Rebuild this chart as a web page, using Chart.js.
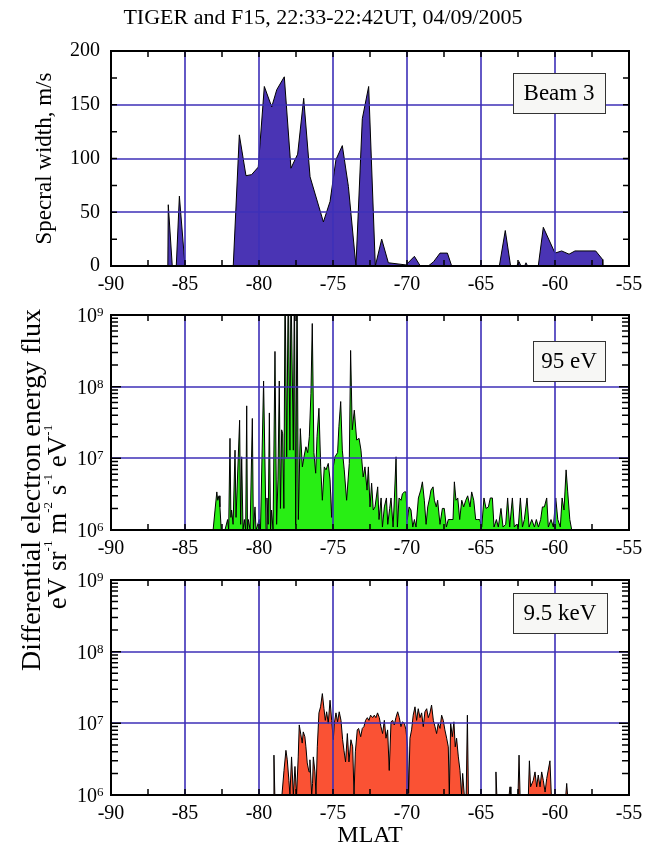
<!DOCTYPE html>
<html>
<head>
<meta charset="utf-8">
<script src="https://cdn.jsdelivr.net/npm/chart.js@4/dist/chart.umd.min.js"></script>
<style>
  body { margin: 0; background: #fff; }
  #wrap { position: relative; width: 657px; height: 850px; }
  #wrap canvas { position: absolute; left: 0; top: 0; }
</style>
</head>
<body>
<div id="wrap">
  <canvas id="c1" width="657" height="850"></canvas>
  <canvas id="c2" width="657" height="850"></canvas>
  <canvas id="c3" width="657" height="850"></canvas>
</div>
<script>
const title = 'TIGER and F15, 22:33-22:42UT, 04/09/2005';
const latTicks = [-90, -85, -80, -75, -70, -65, -60, -55];
const widthTicks = [0, 50, 100, 150, 200];
const fluxTicks = [1e6, 1e7, 1e8, 1e9];
const fluxExp = ['6', '7', '8', '9'];

// panel 1: Beam 3 spectral width
const beamLat = [-90, -86.16, -86.13, -85.86, -85.59, -85.38, -85.0, -81.74, -81.33, -80.88,
  -80.5, -80.05, -79.64, -79.14, -78.8, -78.29, -77.84, -77.39, -76.98, -76.55,
  -75.65, -75.2, -74.8, -74.37, -73.96, -73.45, -73.02, -72.59, -72.14, -71.71,
  -71.26, -70.07, -69.5, -69.1, -68.56, -68.2, -67.77, -67.27, -66.98, -63.76,
  -63.36, -63.0, -62.6, -62.43, -62.3, -62.05, -61.96, -61.85, -61.13, -60.79,
  -60.0, -59.55, -59.05, -58.65, -57.25, -56.78, -56.77];
const beamWidth = [0, 0, 57, 0, 0, 65, 0, 0, 122, 84,
  85, 92, 167, 148, 164, 176, 91, 104, 156, 83,
  41, 60, 99, 112, 74, 0, 137, 167, 0, 25,
  3, 1, 9, 0, 0, 4, 12, 12, 0, 0,
  33, 0, 0, 4, 0, 0, 3, 0, 0, 36,
  12, 14, 11, 14, 14, 6, 0];

// panel 2: 95 eV electrons
const lowLat = [-90, -83.1, -82.97, -82.85, -82.79, -82.7, -82.64, -82.55, -82.3, -82.12,
  -82.05, -81.96, -81.9, -81.85, -81.75, -81.62, -81.55, -81.4, -81.31, -81.24,
  -81.17, -81.08, -80.99, -80.9, -80.83, -80.78, -80.72, -80.6, -80.45, -80.38,
  -80.27, -80.2, -79.98, -79.9, -79.69, -79.6, -79.52, -79.46, -79.38, -79.3,
  -79.22, -79.15, -79.05, -78.92, -78.81, -78.72, -78.63, -78.55, -78.47, -78.4,
  -78.32, -78.24, -78.13, -78.02, -77.91, -77.84, -77.68, -77.61, -77.52, -77.43,
  -77.34, -77.21, -77.07, -76.96, -76.83, -76.71, -76.6, -76.49, -76.4, -76.29,
  -76.17, -76.08, -75.95, -75.83, -75.72, -75.59, -75.47, -75.32, -75.2, -75.09,
  -74.98, -74.87, -74.69, -74.6, -74.48, -74.37, -74.24, -74.08, -73.9, -73.81,
  -73.7, -73.56, -73.4, -73.24, -73.11, -72.96, -72.84, -72.7, -72.61, -72.5,
  -72.39, -72.28, -72.16, -71.98, -71.89, -71.75, -71.66, -71.53, -71.39, -71.3,
  -71.17, -71.08, -70.94, -70.85, -70.74, -70.65, -70.54, -70.4, -70.31, -70.18,
  -70.07, -69.98, -69.86, -69.73, -69.61, -69.5, -69.39, -69.23, -69.07, -68.96,
  -68.83, -68.71, -68.6, -68.47, -68.38, -68.24, -68.15, -68.02, -67.93, -67.77,
  -67.61, -67.48, -67.34, -67.21, -67.03, -66.89, -66.8, -66.69, -66.57, -66.44,
  -66.3, -66.17, -66.03, -65.9, -65.74, -65.63, -65.49, -65.36, -65.22, -65.09,
  -64.95, -64.8, -64.66, -64.5, -64.37, -64.23, -64.12, -63.96, -63.83, -63.65,
  -63.51, -63.33, -63.2, -63.06, -62.88, -62.75, -62.61, -62.48, -62.34, -62.2,
  -62.07, -61.89, -61.75, -61.57, -61.39, -61.26, -61.12, -60.97, -60.85, -60.72,
  -60.56, -60.45, -60.27, -60.11, -59.95, -59.81, -59.64, -59.52, -59.39, -59.25,
  -59.14, -59.0, -58.87, -58.76];
const lowFlux = [1e6, 1e6, 1.9e6, 3.4e6, 2.6e6, 3e6, 2.1e6, 1e6, 1e6, 1.4e6,
  1e6, 1.9e7, 1.5e6, 1.9e6, 1.2e6, 1.3e7, 1.5e6, 1.05e7, 3.4e7, 1.2e6,
  1.05e7, 1e6, 1.4e6, 1e6, 5.4e7, 1e6, 1.4e6, 1e6, 3.6e7, 1e6,
  2.1e6, 1e6, 1.4e6, 1e6, 1.2e8, 9.5e6, 1e6, 2.8e6, 1.2e6, 4.3e7,
  1e6, 1.9e6, 1e6, 3.1e8, 1.2e6, 5e6, 1.2e8, 2e6, 2.5e7, 2.2e7,
  2e6, 3e9, 1.05e7, 3e9, 1.3e7, 3e9, 1.3e7, 3e9, 1.2e6, 3e9,
  1.4e6, 2.6e7, 7.6e6, 1.05e7, 1.45e7, 1.2e7, 2e7, 8.1e7, 7.6e8, 1.2e7,
  6.2e6, 2e7, 5e7, 7.6e6, 2.6e6, 7.6e6, 6.9e6, 8.5e6, 5e6, 1.5e6,
  7.6e6, 1.05e7, 1.2e7, 2.8e7, 6.2e7, 1.3e7, 6.9e6, 2.6e6, 8.5e6, 3.2e8,
  2.5e7, 4.7e7, 1.8e7, 1.9e7, 1.3e7, 5.5e6, 7.6e6, 3.6e6, 7.6e6, 2.1e6,
  4.5e6, 1.9e6, 2.1e6, 4e6, 1.4e6, 2.8e6, 1.1e6, 2.1e6, 2.8e6, 1.2e6,
  2e6, 2.8e6, 1.1e6, 2.8e6, 1.05e7, 1.1e6, 2.8e6, 2.6e6, 3.2e6, 3.4e6,
  3.4e6, 1.4e6, 2.1e6, 1.9e6, 1.1e6, 1.4e6, 1.1e6, 2.8e6, 3.6e6, 4.7e6,
  2.6e6, 1.2e6, 2.1e6, 2.8e6, 3.6e6, 4e6, 2.6e6, 2.1e6, 2.6e6, 1.2e6,
  2e6, 2e6, 1.1e6, 1.4e6, 1.4e6, 1.4e6, 4.7e6, 2.6e6, 2.8e6, 1.4e6,
  2.6e6, 2.1e6, 2.6e6, 3e6, 2.1e6, 3.4e6, 2.6e6, 1.4e6, 1.4e6, 1.4e6,
  1.1e6, 2.8e6, 2e6, 2.1e6, 2.8e6, 2.8e6, 1.1e6, 1.4e6, 1.1e6, 2e6,
  1.1e6, 1.2e6, 2.8e6, 1.1e6, 2.8e6, 1.1e6, 1.2e6, 1.1e6, 2.8e6, 1.1e6,
  1.4e6, 2.8e6, 1.1e6, 1.4e6, 1.1e6, 1.4e6, 1.1e6, 1.4e6, 2.1e6, 2.1e6,
  2.8e6, 1.1e6, 1.4e6, 1.1e6, 2.8e6, 1.4e6, 1.1e6, 2.8e6, 1.9e6, 6.9e6,
  3.4e6, 1.4e6, 1e6, 1e6];

// panel 3: 9.5 keV electrons
const highLat = [-90, -79.05, -78.99, -78.93, -78.45, -78.31, -78.18, -78.09, -77.98, -77.91,
  -77.8, -77.68, -77.57, -77.46, -77.35, -77.28, -77.17, -77.08, -77.01, -76.9,
  -76.83, -76.74, -76.62, -76.56, -76.44, -76.38, -76.33, -76.22, -76.15, -76.06,
  -75.95, -75.84, -75.72, -75.61, -75.52, -75.43, -75.32, -75.2, -75.09, -74.98,
  -74.91, -74.8, -74.69, -74.58, -74.46, -74.35, -74.26, -74.15, -74.03, -73.92,
  -73.79, -73.67, -73.58, -73.49, -73.36, -73.27, -73.13, -73.02, -72.91, -72.8,
  -72.68, -72.57, -72.46, -72.32, -72.21, -72.1, -71.99, -71.87, -71.76, -71.65,
  -71.53, -71.42, -71.31, -71.2, -71.08, -70.97, -70.86, -70.75, -70.63, -70.52,
  -70.41, -70.3, -70.18, -70.07, -69.96, -69.89, -69.8, -69.69, -69.58, -69.46,
  -69.35, -69.24, -69.12, -69.01, -68.9, -68.79, -68.67, -68.56, -68.45, -68.34,
  -68.22, -68.11, -68.0, -67.89, -67.77, -67.66, -67.55, -67.44, -67.32, -67.21,
  -67.14, -67.05, -66.94, -66.83, -66.74, -66.65, -66.53, -66.42, -66.31, -66.24,
  -66.13, -66.0, -65.92, -65.85, -64.05, -63.99, -63.93, -63.1, -63.04, -62.98,
  -62.5, -62.43, -62.36, -61.8, -61.73, -61.65, -61.47, -61.35, -61.24, -61.13,
  -61.01, -60.9, -60.79, -60.67, -60.56, -60.34, -60.25, -59.27, -59.21, -59.15];
const highFlux = [1e6, 1e6, 3.6e6, 1e6, 1e6, 2.2e6, 4.2e6, 3.1e6, 1.6e6, 1e6,
  3.4e6, 1e6, 2.5e6, 1e6, 3.4e6, 9.5e6, 6.9e6, 5.3e6, 7.6e6, 6.5e6,
  4.7e6, 2.8e6, 2.1e6, 3.1e6, 1e6, 1.45e6, 3.4e6, 2.1e6, 1e6, 4.7e6,
  1.4e7, 1.7e7, 2.6e7, 1.6e7, 1.1e7, 1.45e7, 1e7, 2.1e7, 1.1e7, 5.9e6,
  1e7, 1.4e7, 1.05e7, 1.45e7, 1.1e7, 5.9e6, 4.2e6, 2.9e6, 7.2e6, 2.9e6,
  5.9e6, 4.7e6, 1e6, 4e6, 8.1e6, 8.5e6, 6.5e6, 8.5e6, 9e6, 1.1e7,
  1.2e7, 1.1e7, 1.3e7, 1.2e7, 1.3e7, 1.2e7, 1.4e7, 1.2e7, 9e6, 7.2e6,
  1.1e7, 6.2e6, 8.1e6, 2.2e6, 1.05e7, 1.1e7, 9.5e6, 1.2e7, 1.45e7, 1.2e7,
  9e6, 1.05e7, 1e7, 8.1e6, 4.7e6, 1.05e6, 6.2e6, 8.1e6, 1.3e7, 1.7e7,
  1.1e7, 1.6e7, 1.2e7, 1.4e7, 9e6, 1.45e7, 1.6e7, 1.2e7, 1.4e7, 1.8e7,
  1.1e7, 9e6, 7.2e6, 1e7, 8.5e6, 1.3e7, 1.1e7, 8.1e6, 6.2e6, 4.7e6,
  1e6, 1e7, 6.5e6, 1.05e7, 4.7e6, 6.2e6, 3.4e6, 2.2e6, 1e6, 2e6,
  1e6, 1e6, 1.3e7, 1e6, 1e6, 2.1e6, 1e6, 1e6, 1.3e6, 1e6,
  1e6, 3.6e6, 1e6, 1e6, 3e6, 1.3e6, 1.6e6, 2.1e6, 1.3e6, 1.9e6,
  1.3e6, 2.1e6, 1.6e6, 1.1e6, 1.7e6, 3e6, 1e6, 1e6, 1.45e6, 1e6];

const fluxTitle = 'Differential electron energy flux';
const fluxUnit = [['eV sr', 0], ['-1', 1], [' m', 0], ['-2', 1], [' s', 0], ['-1', 1], [' eV', 0], ['-1', 1]];

const serif = '"Liberation Serif", "Times New Roman", serif';
const gridBlue = 'rgb(62,48,184)';
Chart.defaults.font.family = serif;
Chart.defaults.color = '#000';

function pts(xs, ys) {
  return xs.map((x, i) => ({ x: x, y: ys[i] }));
}

// minor tick lists from the major ones
function latMinor() {
  const out = [];
  for (let v = latTicks[0]; v <= latTicks[latTicks.length - 1] + 0.01; v += 2.5) out.push(v);
  return out;
}
function fluxMinor() {
  const out = [];
  fluxTicks.forEach((d, i) => {
    if (i === fluxTicks.length - 1) { out.push(d); return; }
    for (let k = 1; k < 10; k++) out.push(k * d);
  });
  return out;
}

const decor = {
  id: 'decor',
  afterDatasetsDraw(chart, args, o) {
    // grid drawn over the filled areas, as in the original
    const { ctx, chartArea: a, scales: { x, y } } = chart;
    const yMajor = o.log ? fluxTicks : widthTicks;
    ctx.save();
    ctx.strokeStyle = gridBlue;
    ctx.lineWidth = 1.6;
    ctx.beginPath();
    latTicks.slice(1, -1).forEach(v => {
      const px = Math.round(x.getPixelForValue(v));
      ctx.moveTo(px, a.top); ctx.lineTo(px, a.bottom);
    });
    yMajor.slice(1, -1).forEach(v => {
      const py = Math.round(y.getPixelForValue(v));
      ctx.moveTo(a.left, py); ctx.lineTo(a.right, py);
    });
    ctx.stroke();
    ctx.restore();
  },
  afterDraw(chart, args, o) {
    const { ctx, chartArea: a, scales: { x, y } } = chart;
    ctx.save();
    ctx.strokeStyle = '#000';
    ctx.lineWidth = 1.5;
    ctx.beginPath();
    x.ticks.forEach(t => {
      const px = x.getPixelForValue(t.value);
      ctx.moveTo(px, a.top); ctx.lineTo(px, a.top + 6);
      ctx.moveTo(px, a.bottom); ctx.lineTo(px, a.bottom - 6);
    });
    y.ticks.forEach(t => {
      const py = y.getPixelForValue(t.value);
      let len = 6;
      if (o.log) len = fluxTicks.includes(t.value) ? 10 : 7;
      ctx.moveTo(a.left, py); ctx.lineTo(a.left + len, py);
      ctx.moveTo(a.right, py); ctx.lineTo(a.right - len, py);
    });
    ctx.stroke();
    ctx.lineWidth = 2;
    ctx.strokeRect(a.left, a.top, a.right - a.left, a.bottom - a.top);

    // label box
    const b = o.box;
    const bx = a.right - b.right - b.w, by = a.top + b.top;
    ctx.fillStyle = '#f7f7f5';
    ctx.fillRect(bx, by, b.w, 40);
    ctx.lineWidth = 1;
    ctx.strokeStyle = '#333';
    ctx.strokeRect(bx + 0.5, by + 0.5, b.w, 40);
    ctx.fillStyle = '#000';
    ctx.font = '23px ' + serif;
    ctx.textAlign = 'center';
    ctx.textBaseline = 'middle';
    ctx.fillText(b.text, bx + b.w / 2, by + 21);

    // log tick labels 10^n
    if (o.log) {
      fluxTicks.forEach((v, i) => {
        const py = y.getPixelForValue(v);
        ctx.textBaseline = 'alphabetic';
        ctx.textAlign = 'right';
        ctx.font = '20px ' + serif;
        ctx.fillText('10', a.left - 14, py + 7);
        ctx.textAlign = 'left';
        ctx.font = '13px ' + serif;
        ctx.fillText(fluxExp[i], a.left - 14, py + 1);
      });
    }

    if (o.title) {
      ctx.font = '22px ' + serif;
      ctx.textAlign = 'center';
      ctx.textBaseline = 'alphabetic';
      ctx.fillText(title, 323, 24);
    }

    if (o.fluxLabel) {
      ctx.save();
      ctx.translate(33, 490);
      ctx.rotate(-Math.PI / 2);
      ctx.font = '28px ' + serif;
      ctx.textAlign = 'center';
      ctx.textBaseline = 'middle';
      ctx.fillText(fluxTitle, 0, 0);
      ctx.restore();

      ctx.save();
      ctx.translate(59, 517);
      ctx.rotate(-Math.PI / 2);
      ctx.textBaseline = 'middle';
      ctx.textAlign = 'left';
      const big = '27px ' + serif, small = '13px ' + serif;
      let total = 0;
      fluxUnit.forEach(p => { ctx.font = p[1] ? small : big; total += ctx.measureText(p[0]).width; });
      let cx = -total / 2;
      fluxUnit.forEach(p => {
        ctx.font = p[1] ? small : big;
        ctx.fillText(p[0], cx, p[1] ? -10 : 0);
        cx += ctx.measureText(p[0]).width;
      });
      ctx.restore();
    }
    ctx.restore();
  }
};

function xScale(height, showTitle) {
  return {
    type: 'linear', min: -90, max: -55,
    afterBuildTicks: s => { s.ticks = latMinor().map(v => ({ value: v })); },
    afterFit: s => { s.height = height; },
    ticks: {
      autoSkip: false, maxRotation: 0, padding: 7,
      font: { size: 20 },
      callback: v => latTicks.includes(v) ? String(v) : ''
    },
    grid: { display: false, drawTicks: false },
    border: { display: false },
    title: { display: showTitle, text: 'MLAT', font: { size: 24 }, padding: 0 }
  };
}

function fluxScale() {
  return {
    type: 'logarithmic', min: 1e6, max: 1e9,
    afterBuildTicks: s => { s.ticks = fluxMinor().map(v => ({ value: v })); },
    afterFit: s => { s.width = 111; },
    ticks: { display: false },
    grid: { display: false, drawTicks: false },
    border: { display: false }
  };
}

function baseOptions(padTop, padBottom) {
  return {
    responsive: false,
    animation: false,
    devicePixelRatio: 1,
    layout: { padding: { top: padTop, bottom: padBottom, left: 0, right: 28 } },
    plugins: { legend: { display: false }, tooltip: { enabled: false } }
  };
}

// panel 1
const o1 = baseOptions(51, 554);
o1.scales = {
  x: xScale(30, false),
  y: {
    type: 'linear', min: 0, max: 200,
    afterBuildTicks: s => {
      const t = [];
      for (let v = 0; v <= 200; v += 25) t.push({ value: v });
      s.ticks = t;
    },
    afterFit: s => { s.width = 111; },
    ticks: {
      padding: 11, font: { size: 20 }, autoSkip: false,
      callback: v => widthTicks.includes(v) ? String(v) : ''
    },
    grid: { display: false, drawTicks: false },
    border: { display: false },
    title: { display: true, text: 'Specral width, m/s', font: { size: 23 }, padding: { top: 31, bottom: 0 } }
  }
};
o1.plugins.decor = { box: { text: 'Beam 3', w: 92, right: 24, top: 22 }, title: true };

new Chart(document.getElementById('c1'), {
  type: 'line',
  data: { datasets: [{
    data: pts(beamLat, beamWidth),
    borderColor: '#000', borderWidth: 1,
    backgroundColor: 'rgb(74,52,180)', fill: 'origin',
    pointRadius: 0, tension: 0
  }] },
  options: o1,
  plugins: [decor]
});

// panel 2
const o2 = baseOptions(315, 290);
o2.scales = { x: xScale(30, false), y: fluxScale() };
o2.plugins.decor = { box: { text: '95 eV', w: 72, right: 24, top: 26 }, log: true, fluxLabel: true };

new Chart(document.getElementById('c2'), {
  type: 'line',
  data: { datasets: [{
    data: pts(lowLat, lowFlux),
    borderColor: '#000', borderWidth: 1,
    backgroundColor: 'rgb(40,238,20)', fill: 'start',
    pointRadius: 0, tension: 0
  }] },
  options: o2,
  plugins: [decor]
});

// panel 3
const o3 = baseOptions(580, 0);
o3.scales = { x: xScale(55, true), y: fluxScale() };
o3.plugins.decor = { box: { text: '9.5 keV', w: 94, right: 22, top: 13 }, log: true };

new Chart(document.getElementById('c3'), {
  type: 'line',
  data: { datasets: [{
    data: pts(highLat, highFlux),
    borderColor: '#000', borderWidth: 1,
    backgroundColor: 'rgb(250,82,52)', fill: 'start',
    pointRadius: 0, tension: 0
  }] },
  options: o3,
  plugins: [decor]
});
</script>
</body>
</html>
